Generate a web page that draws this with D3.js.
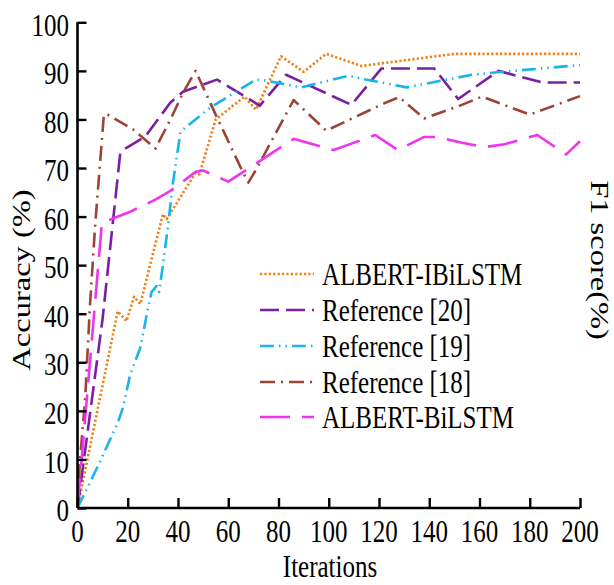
<!DOCTYPE html>
<html><head><meta charset="utf-8">
<script src="https://cdn.jsdelivr.net/npm/d3@7/dist/d3.min.js"></script>
<style>body{margin:0;background:#fff}svg{display:block}</style>
</head><body>
<script>
// ---- data (iteration, value %) ----
const iterTicks = [0,20,40,60,80,100,120,140,160,180,200];
const accTicks = [0,10,20,30,40,50,60,70,80,90,100];
const seriesNames = ["ALBERT-IBiLSTM","Reference [20]","Reference [19]","Reference [18]","ALBERT-BiLSTM"];

const albertIBiLSTM = [[0,0],[16,40.5],[19.5,38.5],[22.5,43.5],[25,42],[34,60.5],[35.5,59.5],[47,69],[48.5,68.7],[55,80],[66.5,84.7],[71,82],[81,93],[90,89.8],[99,93.5],[113,91],[150,93.5],[200,93.5]];
const ref20 = [[0,0],[10,39],[17,73],[19,74],[27,76.5],[37,83.5],[42,85.7],[55.5,88.2],[69,84],[72.5,82.8],[83,89.2],[109,83],[121,90.5],[142,90.5],[151.5,84.2],[167.5,90],[185,87.6],[200,87.6]];
const ref19 = [[0,0],[8,8.5],[16,17.5],[18,20.5],[21,27.5],[25,33],[28,41],[29.5,44.5],[31.5,45.7],[32.5,44.5],[34,50],[36,58],[38,67],[41,77.5],[53,82.5],[71,88.2],[75,88],[89,86.6],[108,89],[112,88.5],[131,86.6],[157,89.2],[167,89.7],[200,91.2]];
const ref18 = [[0,0],[1,10],[3,22],[5,42],[7,58],[10.5,81],[12,81],[22,78],[31,74],[37,80],[42,85.5],[47,90],[55,81],[65.5,69.5],[68,67],[71,69.6],[86,84],[99,77.7],[122,83.3],[128,84.6],[138,80.2],[152,82.8],[161,84.7],[180,81],[200,84.8]];
const albertBiLSTM = [[0,0],[9.7,58.7],[21,61],[31,63.5],[37,65.3],[47,69.2],[50,69.5],[60,67.2],[66,69.2],[86,76],[102,73.7],[118.5,76.8],[127.5,73.7],[138,76.4],[143,76.4],[153,75.2],[162,74.3],[170,74.9],[183,76.8],[194.5,72.8],[200,75.5]];

const allSeries = [albertIBiLSTM, ref20, ref19, ref18, albertBiLSTM];
const colors = ["#F07F13","#7A1FA2","#18B4EC","#9B4436","#F033EE"];
const dashes = ["2.2,2.2","19,7","14,5,1.5,5,1.5,5","15,6,2,6","30,12"];

// ---- drawing ----
const W = 614, H = 585;
const svg = d3.select("body").append("svg").attr("width", W).attr("height", H);
const FONT = "'Liberation Serif','Times New Roman',serif";
const SY = 1.3;

const x = d3.scaleLinear().domain([0,200]).range([77.5, 580]);
const y = d3.scaleLinear().domain([0,100]).range([508, 22.3]);

function stext(px, py, str, anchor, rot) {
  return svg.append("text")
    .attr("transform", `translate(${px},${py}) scale(1,${SY})` + (rot ? ` rotate(${rot})` : ""))
    .attr("text-anchor", anchor || "middle")
    .attr("dominant-baseline", "central")
    .attr("font-family", FONT).attr("font-size", 25).attr("fill", "#000")
    .text(str);
}

// lines
const line = d3.line().x(d => x(d[0])).y(d => y(d[1]));
allSeries.forEach((s, i) => {
  svg.append("path").datum(s)
    .attr("d", line)
    .attr("fill", "none")
    .attr("stroke", colors[i])
    .attr("stroke-width", 2.6)
    .attr("stroke-dasharray", dashes[i])
    .attr("stroke-linejoin", "round");
});

// axes
const xAxis = d3.axisBottom(x).tickValues(iterTicks).tickSize(-10).tickFormat("");
const yAxis = d3.axisLeft(y).tickValues(accTicks).tickSize(-9).tickFormat("");
const gx = svg.append("g").attr("transform", `translate(0,${y(0)})`).call(xAxis);
const gy = svg.append("g").attr("transform", `translate(${x(0)},0)`).call(yAxis);
[gx, gy].forEach(g => {
  g.select(".domain").attr("stroke", "#000").attr("stroke-width", 2.6);
  g.selectAll(".tick line").attr("stroke", "#000").attr("stroke-width", 2.4);
});
gx.select(".domain").attr("d", `M${x(0)},0H${x(200)}`);
gy.select(".domain").attr("d", `M0,${y(0)}V${y(100)}`);

// tick labels
iterTicks.forEach(t => stext(x(t), 531, String(t), "middle"));
accTicks.forEach(t => stext(69, y(t) + 2, String(t), "end"));

// axis titles
stext(330, 566, "Iterations", "middle");
stext(21, 280, "Accuracy (%)", "middle", -90);
stext(600, 260, "F1 score(%)", "middle", 90);

// legend
const legY = [274, 310, 346, 382, 417];
seriesNames.forEach((n, i) => {
  svg.append("line")
    .attr("x1", 260).attr("x2", 314)
    .attr("y1", legY[i]).attr("y2", legY[i])
    .attr("stroke", colors[i]).attr("stroke-width", 2.6)
    .attr("stroke-dasharray", dashes[i]);
  stext(322, legY[i], n, "start");
});
</script>
</body></html>
